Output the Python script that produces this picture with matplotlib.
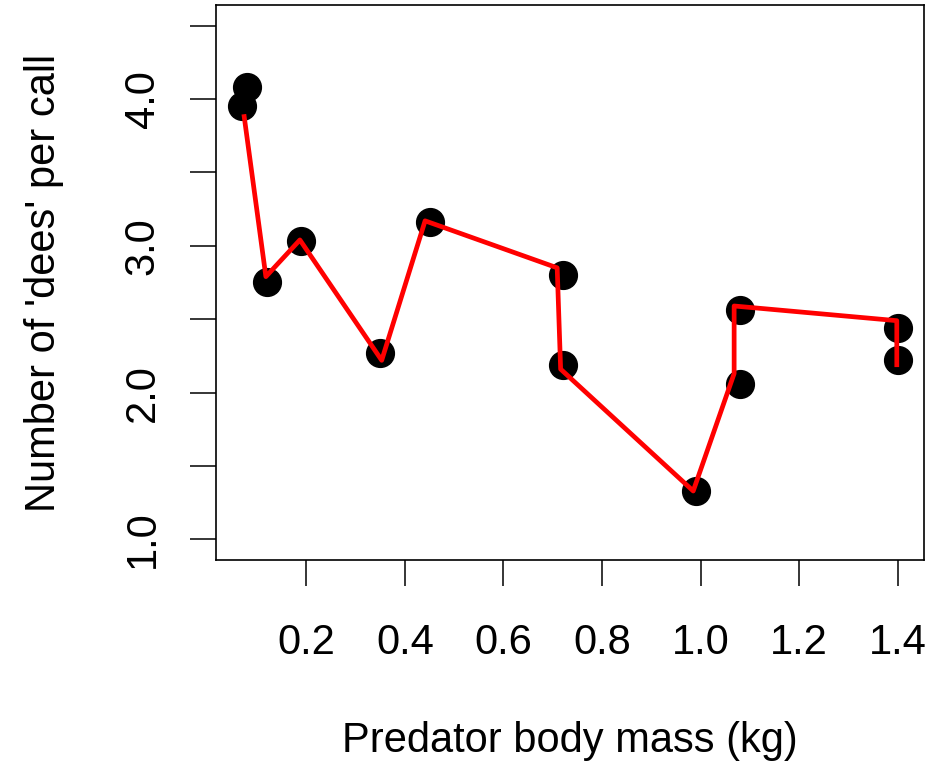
import matplotlib
matplotlib.use('Agg')
import matplotlib.pyplot as plt

plt.rcParams['font.family'] = ['Liberation Sans', 'DejaVu Sans']

# Observed calls: predator body mass vs number of 'dee' notes
mass_kg = [0.08, 0.07, 0.12, 0.19, 0.35, 0.45, 0.72, 0.72, 0.99, 1.08, 1.08, 1.40, 1.40]
dees = [4.08, 3.95, 2.75, 3.03, 2.27, 3.16, 2.80, 2.19, 1.33, 2.06, 2.56, 2.44, 2.22]

# Red connecting line
line_mass = [0.074, 0.118, 0.187, 0.353, 0.441, 0.709, 0.716, 0.985, 1.068, 1.068, 1.398, 1.398]
line_dees = [3.88, 2.79, 3.04, 2.22, 3.17, 2.85, 2.16, 1.33, 2.13, 2.59, 2.49, 2.19]

x_ticks = [0.2, 0.4, 0.6, 0.8, 1.0, 1.2, 1.4]
x_labels = ['0.2', '0.4', '0.6', '0.8', '1.0', '1.2', '1.4']
y_ticks = [1.0, 1.5, 2.0, 2.5, 3.0, 3.5, 4.0, 4.5]
y_labels = ['1.0', '', '2.0', '', '3.0', '', '4.0', '']

fig = plt.figure(figsize=(9.44, 7.65), dpi=100)
ax = fig.add_axes([216 / 944, 1 - 560 / 765, 708 / 944, 555 / 765])

ax.plot(mass_kg, dees, 'o', color='black', markersize=20, zorder=2)
ax.plot(line_mass, line_dees, '-', color='red', linewidth=3.4, zorder=3)

# R-style ranges: ylim c(1, 4.5), xlim c(0.07, 1.4), each padded by 4%
ax.set_xlim(0.07 - 0.04 * 1.33, 1.4 + 0.04 * 1.33)
ax.set_ylim(1.0 - 0.04 * 3.5, 4.5 + 0.04 * 3.5)

ax.set_xticks(x_ticks)
ax.set_xticklabels(x_labels)
ax.set_yticks(y_ticks)
ax.set_yticklabels(y_labels, rotation=90, va='center')

ax.tick_params(axis='both', direction='out', length=19, width=1.1, labelsize=30, color='black')
ax.tick_params(axis='x', pad=26)
ax.tick_params(axis='y', pad=19.5)
for s in ax.spines.values():
    s.set_linewidth(1.2)

ax.set_xlabel('Predator body mass (kg)', fontsize=30, labelpad=42)
ax.set_ylabel("Number of 'dees' per call", fontsize=30, labelpad=42)

fig.savefig('out.png', dpi=100)
